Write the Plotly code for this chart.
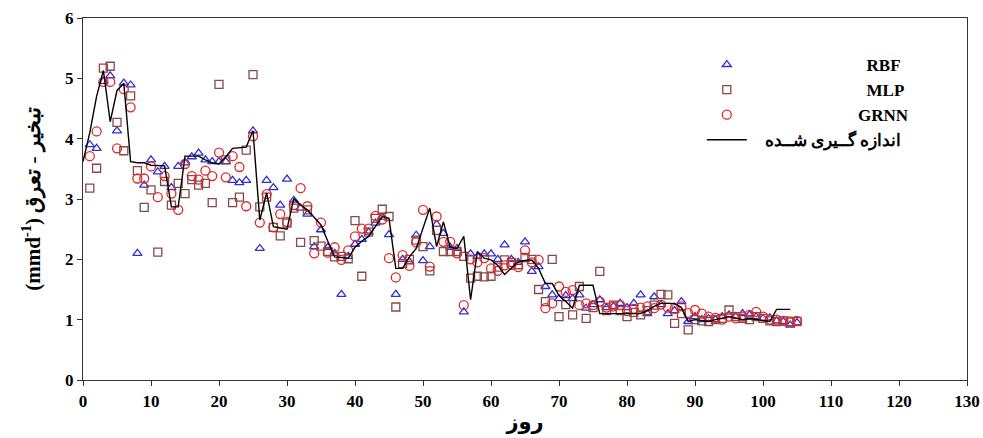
import plotly.graph_objects as go

# ---- data ----
meas_days = list(range(0, 105))
meas_vals = [3.62, 4.10, 4.70, 5.13, 4.28, 4.80, 4.92, 3.62, 3.60, 3.60,
             3.56, 3.55, 3.55, 2.87, 2.87, 3.71, 3.71, 3.71, 3.65, 3.60,
             3.58, 3.70, 3.84, 3.85, 3.86, 4.13, 2.65, 3.10, 2.54, 2.52,
             2.50, 3.01, 2.90, 2.82, 2.70, 2.57, 2.30, 2.04, 2.03, 2.02,
             2.20, 2.30, 2.38, 2.55, 2.71, 2.68, 1.85, 1.85, 2.04, 2.18,
             2.50, 2.85, 2.21, 2.62, 2.20, 2.18, 2.38, 1.33, 2.13, 2.02,
             1.99, 1.90, 1.75, 1.85, 1.96, 1.98, 1.99, 1.85, 1.60, 1.60,
             1.40, 1.30, 1.19, 1.57, 1.57, 1.57, 1.10, 1.10, 1.10, 1.10,
             1.10, 1.10, 1.10, 1.15, 1.22, 1.27, 1.27, 1.27, 1.20, 0.97,
             1.00, 0.98, 0.97, 1.00, 1.02, 1.05, 1.03, 1.00, 1.02, 1.00,
             0.98, 0.97, 1.17, 1.17, 1.17]

model_days = list(range(1, 106))
rbf_vals = [3.90, 3.84, 4.95, 5.04, 4.13, 4.92, 4.89, 2.10, 3.23, 3.65,
            3.45, 3.54, 3.19, 3.54, 3.60, 3.70, 3.76, 3.65, 3.62, 3.62,
            3.62, 3.31, 3.27, 3.31, 4.13, 2.18, 3.31, 3.19, 2.90, 3.33,
            2.98, 2.85, 2.75, 2.21, 2.49, 2.20, 2.10, 1.42, 2.05, 2.25,
            2.33, 2.45, 2.60, 2.70, 2.41, 1.42, 2.00, 1.96, 2.40, 1.98,
            2.21, 2.58, 2.43, 2.20, 2.18, 1.13, 2.09, 2.05, 2.09, 2.09,
            2.00, 2.24, 2.00, 1.95, 2.29, 1.80, 1.88, 1.55, 1.41, 1.35,
            1.40, 1.35, 1.41, 1.19, 1.25, 1.33, 1.20, 1.22, 1.27, 1.20,
            1.27, 1.41, 1.10, 1.38, 1.25, 1.10, 1.15, 1.30, 0.97, 1.05,
            1.00, 1.02, 1.00, 1.05, 1.08, 1.05, 1.10, 1.08, 1.05, 1.02,
            1.03, 0.98, 0.97, 0.91, 0.95]
mlp_vals = [3.18, 3.51, 5.17, 5.20, 4.27, 3.80, 4.71, 3.47, 2.86, 3.15,
            2.12, 3.29, 2.90, 3.26, 3.09, 3.32, 3.23, 3.26, 2.94, 4.90,
            3.65, 2.94, 3.03, 3.81, 5.06, 2.87, 3.03, 2.53, 2.39, 2.60,
            2.85, 2.28, 2.82, 2.31, 2.22, 2.13, 2.04, 2.05, 2.01, 2.64,
            1.72, 2.45, 2.68, 2.83, 2.71, 1.21, 1.93, 2.00, 2.32, 2.21,
            1.81, 2.48, 2.13, 2.13, 2.13, 2.05, 1.69, 1.72, 1.71, 1.72,
            1.87, 1.99, 1.95, 1.91, 2.03, 2.00, 1.50, 1.30, 2.00, 1.05,
            1.25, 1.08, 1.55, 1.02, 1.20, 1.80, 1.15, 1.24, 1.15, 1.05,
            1.12, 1.08, 1.15, 1.24, 1.42, 1.41, 0.94, 1.10, 0.83, 1.00,
            0.98, 0.97, 1.00, 1.02, 1.16, 1.05, 1.02, 1.00, 1.05, 1.02,
            0.98, 0.97, 0.98, 0.96, 0.97]
grnn_vals = [3.71, 4.12, 4.94, 4.94, 3.84, 4.82, 4.52, 3.34, 3.34, 3.54,
             3.03, 3.38, 3.09, 2.82, 3.58, 3.38, 3.32, 3.47, 3.38, 3.77,
             3.36, 3.71, 3.53, 2.88, 4.04, 2.61, 3.08, 2.53, 2.75, 2.62,
             2.90, 3.18, 2.88, 2.10, 2.61, 2.11, 2.20, 1.99, 2.15, 2.38,
             2.51, 2.51, 2.72, 2.66, 2.02, 1.70, 2.07, 1.89, 2.28, 2.82,
             1.88, 2.71, 2.29, 2.29, 2.10, 1.24, 2.00, 1.95, 2.02, 1.85,
             1.81, 1.90, 1.91, 1.87, 2.15, 1.95, 1.99, 1.19, 1.27, 1.55,
             1.46, 1.49, 1.24, 1.27, 1.24, 1.30, 1.20, 1.22, 1.24, 1.14,
             1.18, 1.20, 1.22, 1.19, 1.25, 1.20, 1.18, 1.22, 1.11, 1.16,
             1.10, 1.05, 1.03, 1.00, 1.05, 1.02, 1.05, 1.08, 1.13, 1.05,
             1.00, 1.00, 0.98, 0.97, 0.98]

x_ticks = [0, 10, 20, 30, 40, 50, 60, 70, 80, 90, 100, 110, 120, 130]
y_ticks = [0, 1, 2, 3, 4, 5, 6]

SERIF = "Liberation Serif, Times New Roman, serif"
PAD = "\u00a0" * 27

fig = go.Figure()
fig.add_trace(go.Scatter(
    x=model_days, y=rbf_vals, mode="markers", name=PAD + "RBF",
    marker=dict(symbol="triangle-up-open", size=8, color="#3030d0",
                line=dict(width=1.3, color="#3030d0"))))
fig.add_trace(go.Scatter(
    x=model_days, y=mlp_vals, mode="markers", name=PAD + "MLP",
    marker=dict(symbol="square-open", size=8, color="#8a4848",
                line=dict(width=1.3, color="#8a4848"))))
fig.add_trace(go.Scatter(
    x=model_days, y=grnn_vals, mode="markers", name=PAD[:-2] + "GRNN",
    marker=dict(symbol="circle-open", size=9, color="#e02828",
                line=dict(width=1.3, color="#e02828"))))
fig.add_trace(go.Scatter(
    x=meas_days, y=meas_vals, mode="lines", name="\u00a0\u00a0\u00a0اندازه گــیری شــده",
    line=dict(color="black", width=1.4)))

axis_common = dict(
    showline=True, linecolor="#333333", linewidth=1.2, mirror=True,
    ticks="outside", ticklen=5, tickwidth=1.2, tickcolor="#333333",
    showgrid=False, zeroline=False, automargin=False,
    tickfont=dict(family=SERIF, size=17, color="black", weight="bold"),
)

fig.update_layout(
    width=983, height=438,
    margin=dict(l=83, r=16, t=18, b=58),
    plot_bgcolor="white", paper_bgcolor="white",
    xaxis=dict(range=[0, 130], tickvals=x_ticks, **axis_common,
               title=dict(text="روز", standoff=4,
                          font=dict(family="DejaVu Sans, Noto Sans", size=21,
                                    color="black", weight="bold"))),
    yaxis=dict(range=[0, 6], tickvals=y_ticks, **axis_common,
               title=dict(text="(mmd<sup>-1</sup>) تبخیر - تعرق", standoff=18,
                          font=dict(family=SERIF, size=21, color="black",
                                    weight="bold"))),
    legend=dict(x=0.70, y=0.92, xanchor="left", yanchor="top",
                bgcolor="rgba(0,0,0,0)", tracegroupgap=0,
                font=dict(family=SERIF, size=17, color="black", weight="bold"),
                itemwidth=40),
    showlegend=True,
)

fig.write_html("out.html")
